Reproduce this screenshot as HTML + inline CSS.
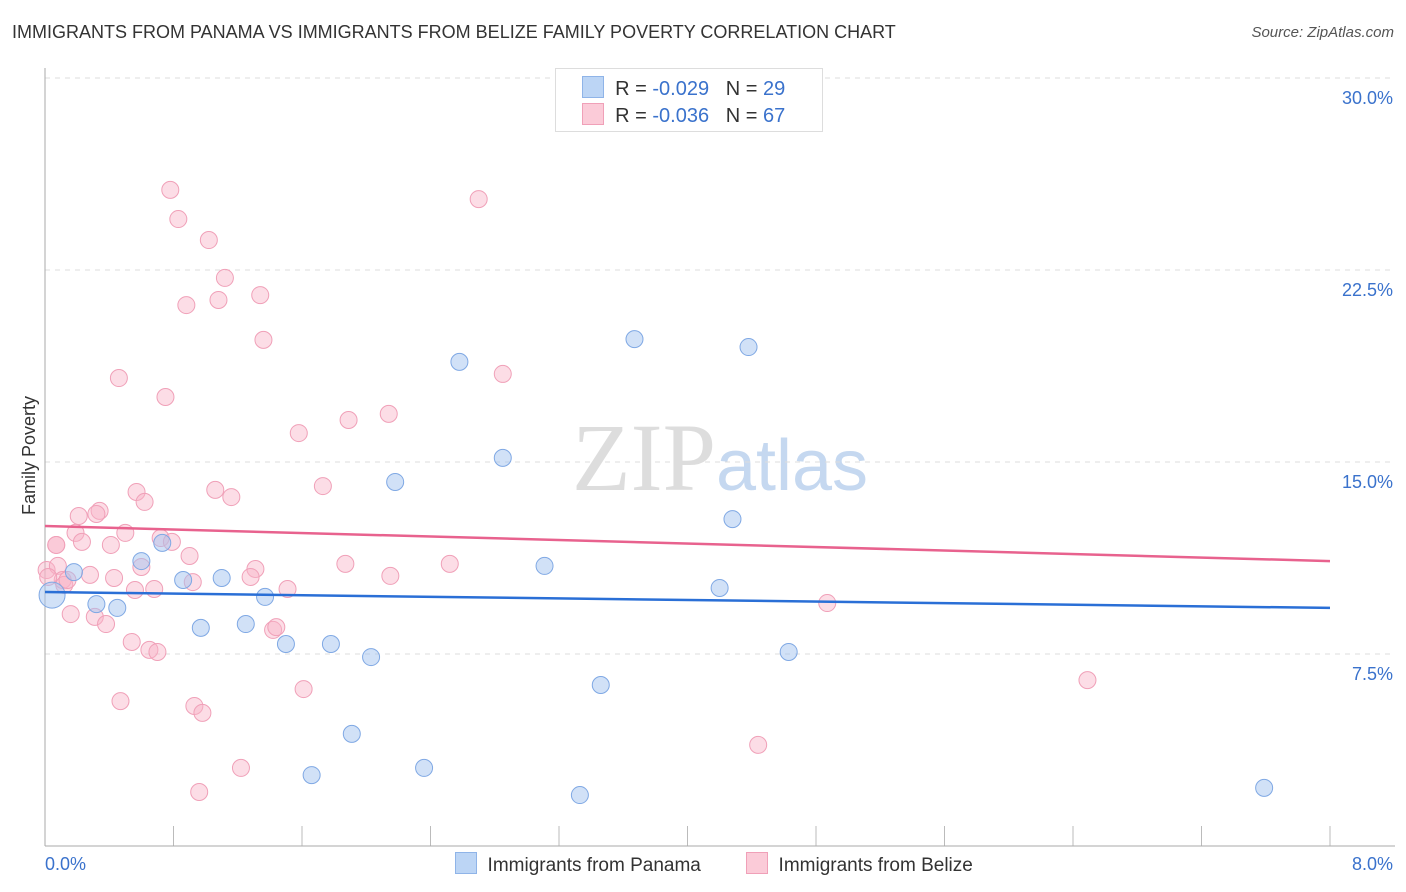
<!DOCTYPE html>
<html><head><meta charset="utf-8"><style>
body{margin:0;background:#fff;font-family:"Liberation Sans",sans-serif;}
#wrap{position:relative;width:1406px;height:892px;overflow:hidden}
.t{position:absolute;white-space:nowrap}
</style></head><body><div id="wrap">
<div class="t" style="left:12px;top:22px;font-size:18px;color:#333">IMMIGRANTS FROM PANAMA VS IMMIGRANTS FROM BELIZE FAMILY POVERTY CORRELATION CHART</div>
<div class="t" style="right:12px;top:24px;font-size:15px;color:#555;font-style:italic">Source: ZipAtlas.com</div>
<svg id="plot" width="1406" height="892" style="position:absolute;left:0;top:0">
<text x="720" y="490" text-anchor="middle" font-size="96" font-family="Liberation Serif" fill="#ddd">ZIP<tspan fill="#c5d8f0" font-family="Liberation Sans" font-size="72">atlas</tspan></text>
</svg>
<div class="t" style="left:-30px;top:445px;font-size:18px;color:#333;transform:rotate(-90deg)">Family Poverty</div>
<div style="position:absolute;left:555px;top:68px;width:266px;height:62px;border:1px solid #ddd;background:#fff;font-size:20px;color:#333">
<div style="position:absolute;left:26px;top:7px"><span style="display:inline-block;width:20px;height:20px;background:#bcd5f5;border:1px solid #8fb4e8;vertical-align:-3px"></span> &nbsp;R = <span style="color:#3a72cc">-0.029</span> &nbsp;&nbsp;N = <span style="color:#3a72cc">29</span></div>
<div style="position:absolute;left:26px;top:34px"><span style="display:inline-block;width:20px;height:20px;background:#fbcbd8;border:1px solid #f0a0b8;vertical-align:-3px"></span> &nbsp;R = <span style="color:#3a72cc">-0.036</span> &nbsp;&nbsp;N = <span style="color:#3a72cc">67</span></div>
</div>
<div class="t" style="left:455px;top:852px;font-size:19px;color:#333"><span style="display:inline-block;width:20px;height:20px;background:#bcd5f5;border:1px solid #8fb4e8;vertical-align:-3px"></span> &nbsp;Immigrants from Panama</div>
<div class="t" style="left:746px;top:852px;font-size:19px;color:#333"><span style="display:inline-block;width:20px;height:20px;background:#fbcbd8;border:1px solid #f0a0b8;vertical-align:-3px"></span> &nbsp;Immigrants from Belize</div>
</div>
<script>
const yTicks=[7.5,15,22.5,30];
const yTickLabels=["7.5%","15.0%","22.5%","30.0%"];
const xTickLabels=["0.0%","8.0%"];
const panamaX=[0.044,0.18,0.32,0.45,0.60,0.73,0.86,0.97,1.10,1.25,1.37,1.50,1.66,1.78,1.91,2.03,2.18,2.36,2.58,2.85,3.11,3.33,3.46,3.67,4.20,4.28,4.38,4.63,7.59];
const panamaY=[9.80,10.70,9.45,9.30,11.13,11.84,10.39,8.52,10.47,8.67,9.73,7.89,2.77,7.89,4.38,7.38,14.22,3.05,18.91,15.16,10.94,1.99,6.29,19.80,10.08,12.77,19.49,7.58,2.27];
const belizeX=[0.78,0.83,1.02,1.12,0.88,1.08,1.34,1.36,2.70,2.85,0.46,0.75,1.89,2.14,1.58,1.73,0.57,1.06,1.16,0.62,0.34,0.21,0.32,0.50,0.07,0.19,0.23,0.41,0.72,0.79,0.90,0.60,1.31,1.28,1.87,2.15,2.52,0.01,0.08,0.11,0.28,0.43,0.92,0.56,0.68,1.51,0.16,0.31,0.38,0.54,0.65,0.70,1.42,1.44,0.02,0.12,0.47,0.93,0.98,1.61,1.22,0.96,4.44,4.87,6.49,0.14,0.07];
const belizeY=[25.63,24.49,23.67,22.19,21.13,21.33,21.52,19.77,25.27,18.44,18.28,17.54,16.64,16.88,16.13,14.06,13.83,13.91,13.63,13.44,13.09,12.89,12.97,12.23,11.76,12.23,11.88,11.76,12.03,11.88,11.33,10.90,10.82,10.51,11.02,10.55,11.02,10.78,10.94,10.39,10.59,10.47,10.31,10.00,10.04,10.04,9.06,8.95,8.67,7.97,7.66,7.58,8.44,8.55,10.51,10.20,5.66,5.47,5.20,6.13,3.05,2.11,3.95,9.49,6.48,10.39,11.76];
const panamaTrend=[9.92,9.30];
const belizeTrend=[12.5,11.13];
const X0=45,X1=1330,Y0=846,XMAX=8,YS=25.6;
const sx=v=>X0+v/XMAX*(X1-X0), sy=v=>Y0-v*YS;
const svg=document.getElementById('plot'),NS='http://www.w3.org/2000/svg';
function mk(tag,at){const e=document.createElementNS(NS,tag);for(const k in at)e.setAttribute(k,at[k]);svg.appendChild(e);return e;}
yTicks.forEach((v,i)=>{
 const g=mk('line',{x1:45,x2:1395,y1:sy(v),y2:sy(v),stroke:'#ddd','stroke-dasharray':'5,5'});
 
 
 const t=mk('text',{x:1393,y:sy(v)+26,'text-anchor':'end','font-size':18,fill:'#3a72cc'});t.textContent=yTickLabels[i];
 
 
});
for(let i=1;i<=10;i++){const x=sx(i*0.8);const l=mk('line',{x1:x,x2:x,y1:826,y2:846,stroke:'#bbb'});
 
 }
let a=mk('line',{x1:45,x2:45,y1:68,y2:846,stroke:'#aaa'});


a=mk('line',{x1:45,x2:1395,y1:846,y2:846,stroke:'#aaa'});


let t0=mk('text',{x:45,y:870,'font-size':18,fill:'#3a72cc'});t0.textContent=xTickLabels[0];


let t1=mk('text',{x:1393,y:870,'text-anchor':'end','font-size':18,fill:'#3a72cc'});t1.textContent=xTickLabels[1];


belizeX.forEach((x,i)=>{const c=mk('circle',{cx:sx(x),cy:sy(belizeY[i]),r:8.5,fill:'rgba(248,180,200,0.45)',stroke:'#f0a0b8','stroke-width':1});
 
 });
panamaX.forEach((x,i)=>{const c=mk('circle',{cx:sx(x),cy:sy(panamaY[i]),r:i===0?13:8.5,fill:'rgba(164,196,240,0.5)',stroke:'#7fa8e4','stroke-width':1});
 
 });
let tl=mk('line',{x1:sx(0),x2:sx(8),y1:sy(belizeTrend[0]),y2:sy(belizeTrend[1]),stroke:'#e8628e','stroke-width':2.5});


tl=mk('line',{x1:sx(0),x2:sx(8),y1:sy(panamaTrend[0]),y2:sy(panamaTrend[1]),stroke:'#2a6fd6','stroke-width':2.5});


</script>
</body></html>
